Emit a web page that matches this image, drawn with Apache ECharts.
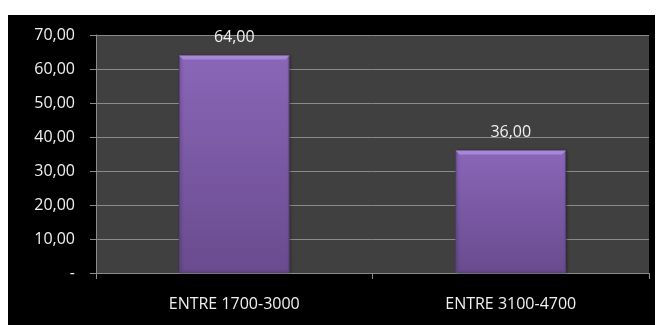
<!DOCTYPE html>
<html>
<head>
<meta charset="utf-8">
<script src="https://cdn.jsdelivr.net/npm/echarts@6/dist/echarts.min.js"></script>
<style>
  html, body { margin: 0; padding: 0; background: #ffffff; width: 657px; height: 325px; overflow: hidden; }
  #frame { position: absolute; left: 8px; top: 15px; width: 647px; height: 310px; background: #000000; }
  #chart { width: 647px; height: 310px; }
</style>
</head>
<body>
<div id="frame"><div id="chart"></div></div>
<script>
// Income ranges and their shares
const categories = ['ENTRE 1700-3000', 'ENTRE 3100-4700'];
const values = [64, 36];
// Value axis: 0 to 70 in steps of 10
const yMin = 0;
const yMax = 70;
const yStep = 10;

function fmt(v) {
  if (v === 0) return '-';
  return v.toFixed(2).replace('.', ',');
}

const FONT = 'Open Sans';
const chart = echarts.init(document.getElementById('chart'), null, { renderer: 'canvas' });

const barFill = new echarts.graphic.LinearGradient(0, 0, 0, 1, [
  { offset: 0, color: '#8a66b8' },
  { offset: 1, color: '#694b8e' }
]);

chart.setOption({
  backgroundColor: '#000000',
  animation: false,
  textStyle: { fontFamily: FONT },
  grid: {
    left: 88, right: 6, top: 20, bottom: 52,
    show: true, backgroundColor: '#404040', borderWidth: 0
  },
  xAxis: {
    type: 'category',
    data: categories,
    axisLine: { lineStyle: { color: '#8c8c8c', width: 1 } },
    axisTick: { show: true, length: 6, lineStyle: { color: '#8c8c8c' } },
    axisLabel: { color: '#f0f0f0', fontSize: 16, margin: 23, fontFamily: FONT }
  },
  yAxis: {
    type: 'value',
    min: yMin, max: yMax, interval: yStep,
    axisLine: { show: true, lineStyle: { color: '#8c8c8c', width: 1 } },
    axisTick: { show: true, length: 6, lineStyle: { color: '#8c8c8c' } },
    splitLine: { lineStyle: { color: '#8a8a8a', width: 1 } },
    axisLabel: { color: '#f0f0f0', fontSize: 16, margin: 21, formatter: fmt, fontFamily: FONT }
  },
  series: [{
    type: 'bar',
    data: values,
    barWidth: '40%',
    itemStyle: {
      color: barFill,
      borderColor: '#5a3f7c',
      borderWidth: 1,
      shadowColor: 'rgba(0,0,0,0.35)',
      shadowBlur: 3,
      shadowOffsetX: 1
    },
    label: {
      show: true,
      position: 'top',
      distance: 10,
      color: '#f0f0f0',
      fontSize: 16,
      fontFamily: FONT,
      formatter: p => fmt(p.value)
    }
  }, {
    // thin light bevel along the top edge of each bar
    type: 'custom',
    data: values.map((v, i) => [i, v]),
    renderItem: function (params, api) {
      const top = api.coord([api.value(0), api.value(1)]);
      const size = api.size([1, 0]);
      const w = size[0] * 0.4;
      const x0 = top[0] - w / 2;
      return {
        type: 'polygon',
        shape: { points: [[x0, top[1]], [x0 + w, top[1]], [x0 + w - 4, top[1] + 4], [x0 + 4, top[1] + 4]] },
        style: { fill: '#a888d6' }
      };
    },
    silent: true,
    z: 3
  }]
});
</script>
</body>
</html>
